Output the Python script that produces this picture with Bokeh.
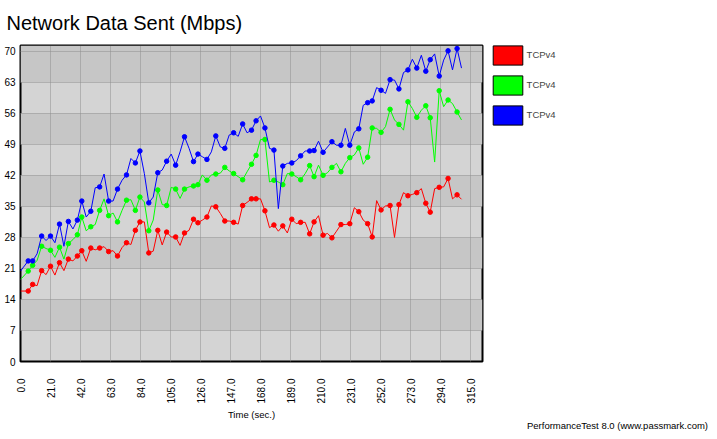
import math
from bokeh.plotting import figure
from bokeh.layouts import row
from bokeh.models import (FixedTicker, NumeralTickFormatter, Legend, LegendItem,
                          BoxAnnotation)
from bokeh.embed import file_html
from bokeh.resources import INLINE

# ---------------- data ----------------
time_s = [0.0, 5.4, 8.5, 11.6, 14.8, 17.9, 21.0, 24.1, 27.3, 30.4, 33.5, 36.7, 39.8,
          42.9, 46.0, 49.2, 52.3, 55.4, 58.5, 61.7, 64.8, 67.9, 71.1, 74.2, 77.3,
          80.4, 83.6, 86.7, 89.8, 92.9, 96.1, 99.2, 102.3, 105.5, 108.6, 111.7,
          114.8, 118.0, 121.1, 124.2, 127.3, 130.5, 133.6, 136.7, 139.9, 143.0,
          146.1, 149.2, 152.4, 155.5, 158.6, 161.7, 164.9, 168.0, 171.1, 174.3,
          177.4, 180.5, 183.6, 186.8, 189.9, 193.0, 196.1, 199.3, 202.4, 205.5,
          208.6, 211.8, 214.9, 218.0, 221.2, 224.3, 227.4, 230.5, 233.7, 236.8,
          239.9, 243.0, 246.2, 249.3, 252.4, 255.5, 258.7, 261.8, 264.9, 268.1,
          271.2, 274.3, 277.4, 280.6, 283.7, 286.8, 289.9, 293.1, 296.2, 299.3,
          302.4, 305.6, 308.7]

red_mbps = [15.9,
            15.9, 17.4, 17.1, 20.5, 19.6, 21.5, 19.5, 22.3, 20.5, 23.1,
            22.7, 23.8, 25.0, 22.6, 25.6, 25.2, 25.6, 25.9, 24.8, 25.0,
            23.8, 25.7, 26.8, 26.4, 29.6, 31.5, 31.5, 24.5, 24.9, 29.6,
            26.3, 29.2, 28.1, 28.1, 26.2, 29.0, 29.6, 32.1, 31.3, 31.9,
            32.6, 35.1, 34.9, 33.4, 31.7, 31.7, 31.4, 31.0, 35.2, 35.9,
            36.7, 36.7, 36.7, 34.0, 30.2, 30.8, 29.4, 30.6, 29.0, 32.1,
            31.1, 31.4, 31.4, 28.8, 31.5, 32.9, 28.5, 28.9, 27.9, 29.4,
            30.9, 30.9, 31.1, 34.7, 33.8, 31.9, 31.1, 28.1, 36.3, 34.2,
            35.1, 35.2, 28.0, 35.4, 38.1, 37.4, 37.7, 38.1, 39.0, 35.7,
            33.7, 39.0, 39.3, 39.4, 41.3, 36.7, 37.6, 36.6]

green_mbps = [18.5,
              20.4, 21.7, 22.8, 26.0, 25.5, 25.1, 23.5, 25.8, 23.1, 26.6,
              27.5, 28.6, 32.6, 29.5, 30.4, 30.9, 34.1, 36.7, 32.9, 33.5,
              31.5, 34.1, 36.4, 36.5, 34.1, 37.1, 36.0, 29.5, 31.9, 38.7,
              35.4, 35.2, 39.3, 38.9, 36.8, 38.9, 39.4, 39.6, 39.9, 42.1,
              40.9, 42.1, 42.3, 42.5, 43.8, 43.0, 42.4, 41.7, 41.0, 42.8,
              44.5, 46.5, 50.1, 50.1, 40.5, 40.9, 40.5, 39.9, 42.4, 42.3,
              41.7, 41.0, 42.4, 44.2, 41.7, 44.3, 42.0, 42.6, 43.8, 44.7,
              42.8, 44.7, 46.0, 46.6, 48.2, 44.5, 46.1, 52.7, 52.6, 51.7,
              53.0, 56.9, 54.5, 53.5, 52.2, 58.6, 57.1, 55.1, 56.7, 57.7,
              55.0, 45.0, 61.1, 57.5, 59.0, 58.2, 56.3, 54.5]

blue_mbps = [20.4,
             22.7, 22.7, 24.3, 28.3, 27.3, 28.3, 26.8, 31.0, 26.0, 31.6,
             29.9, 31.9, 36.2, 32.6, 33.9, 39.2, 39.4, 42.3, 36.2, 36.2,
             38.9, 40.9, 42.1, 45.8, 44.8, 47.5, 42.4, 35.8, 37.1, 42.6,
             43.2, 45.2, 46.8, 44.3, 47.3, 50.7, 48.1, 45.1, 46.8, 46.2,
             45.6, 47.3, 50.9, 48.4, 48.1, 51.1, 51.6, 50.8, 53.6, 51.6,
             52.2, 54.3, 55.4, 52.7, 48.1, 47.7, 34.5, 44.1, 44.7, 44.8,
             45.3, 46.4, 47.5, 47.5, 47.6, 49.7, 47.2, 48.4, 49.6, 48.8,
             48.8, 52.6, 48.8, 51.8, 52.5, 57.8, 58.4, 58.8, 61.8, 61.2,
             60.5, 63.6, 63.5, 61.5, 65.2, 65.8, 68.2, 66.2, 69.1, 65.5,
             68.1, 69.4, 64.4, 68.0, 70.1, 65.8, 70.6, 66.2]

# samples that carry a dot marker
marker_idx = [1, 2, 4, 6, 8, 10, 12, 13, 15, 17, 19, 21, 23, 25, 26, 28, 30, 32, 34,
              36, 38, 39, 41, 43, 45, 47, 49, 51, 52, 54, 56, 58, 60, 62, 64, 65, 67,
              69, 71, 73, 75, 77, 78, 80, 82, 84, 86, 88, 90, 91, 93, 95, 97]

series_names = ["TCPv4", "TCPv4", "TCPv4"]
series_colors = ["#FF0000", "#00FF00", "#0000FF"]
series_values = [red_mbps, green_mbps, blue_mbps]

x_ticks = [0, 21, 42, 63, 84, 105, 126, 147, 168, 189, 210, 231, 252, 273, 294, 315]
y_ticks = [0, 7, 14, 21, 28, 35, 42, 49, 56, 63, 70]

title_text = "Network Data Sent (Mbps)"
x_title = "Time (sec.)"
footer_text = "PerformanceTest 8.0 (www.passmark.com)"

FONT = "Liberation Sans"
NAN = float("nan")

# ---------------- main chart ----------------
p = figure(width=484, height=439, output_backend="svg", toolbar_location=None,
           x_range=(0, 323.4), y_range=(0, 71.3),
           min_border_left=20, min_border_right=2,
           min_border_top=45, min_border_bottom=78)
p.background_fill_color = "#D4D4D4"
p.border_fill_color = "white"
p.outline_line_color = "black"
p.outline_line_width = 2

p.title.text = title_text
p.title.align = "left"
p.title.vertical_align = "top"
p.title.offset = -14
p.title.standoff = 20
p.title.text_font = FONT
p.title.text_font_size = "20px"
p.title.text_font_style = "normal"
p.title.text_color = "black"

# alternating darker bands
for i in range(1, len(y_ticks), 2):
    top = y_ticks[i + 1] if i + 1 < len(y_ticks) - 1 else None
    p.add_layout(BoxAnnotation(bottom=y_ticks[i], top=top, fill_color="#C6C6C6",
                               fill_alpha=1, line_color=None, level="image"))

p.xaxis.ticker = FixedTicker(ticks=x_ticks)
p.yaxis.ticker = FixedTicker(ticks=y_ticks)
p.xaxis.formatter = NumeralTickFormatter(format="0.0")

for g in (p.xgrid, p.ygrid):
    g.grid_line_color = "#8E8E8E"
    g.grid_line_dash = "1 1"
    g.grid_line_width = 1

for ax in (p.xaxis, p.yaxis):
    ax.axis_line_color = None
    ax.major_tick_line_color = None
    ax.minor_tick_line_color = None
    ax.major_tick_out = 0
    ax.major_tick_in = 0
    ax.minor_tick_out = 0
    ax.major_label_text_font = FONT
    ax.major_label_text_font_size = "10px"
    ax.major_label_text_color = "black"

p.xaxis.major_label_orientation = math.pi / 2
p.xaxis.major_label_standoff = 17
p.yaxis.major_label_standoff = 5
p.xaxis.axis_label = x_title
p.xaxis.axis_label_text_font = FONT
p.xaxis.axis_label_text_font_size = "9.5px"
p.xaxis.axis_label_text_font_style = "normal"
p.xaxis.axis_label_text_color = "#000000"
p.xaxis.axis_label_standoff = 2

for vals, col in zip(series_values, series_colors):
    p.line(time_s, vals, line_color=col, line_width=1)
    p.scatter([time_s[i] for i in marker_idx], [vals[i] for i in marker_idx],
              marker="circle", size=4.5, fill_color=col, line_color=col)

# ---------------- legend + footer panel ----------------
q = figure(width=233, height=439, output_backend="svg", toolbar_location=None,
           x_range=(0, 1), y_range=(0, 1), y_axis_type=None,
           min_border_left=0, min_border_right=100,
           min_border_top=45, min_border_bottom=78, outline_line_color=None)
q.grid.visible = False
q.background_fill_color = "white"
q.border_fill_color = "white"

fax = q.xaxis[0]
fax.ticker = FixedTicker(ticks=[])
fax.axis_line_color = None
fax.major_tick_line_color = None
fax.minor_tick_line_color = None
fax.major_tick_out = 0
fax.minor_tick_out = 0
fax.major_label_text_font_size = "0px"
fax.axis_label = footer_text
fax.axis_label_text_font = FONT
fax.axis_label_text_font_size = "9.5px"
fax.axis_label_text_font_style = "normal"
fax.axis_label_text_color = "black"
fax.axis_label_standoff = 58
fax.axis_label_align = "end"

items = []
for name, col in zip(series_names, series_colors):
    r = q.quad(left=[NAN], right=[NAN], bottom=[NAN], top=[NAN], fill_color=col,
               line_color="black", line_width=1)
    items.append(LegendItem(label=name, renderers=[r]))
legend = Legend(items=items, location=(4.6, 234.4), glyph_width=37, glyph_height=24,
                label_height=24, spacing=6, padding=0, margin=0,
                border_line_color=None, background_fill_alpha=0, label_standoff=1,
                label_text_font=FONT, label_text_font_size="9.5px",
                label_text_baseline="bottom")
q.add_layout(legend)

layout = row(p, q)
open("out.html", "w").write(file_html(layout, INLINE))
